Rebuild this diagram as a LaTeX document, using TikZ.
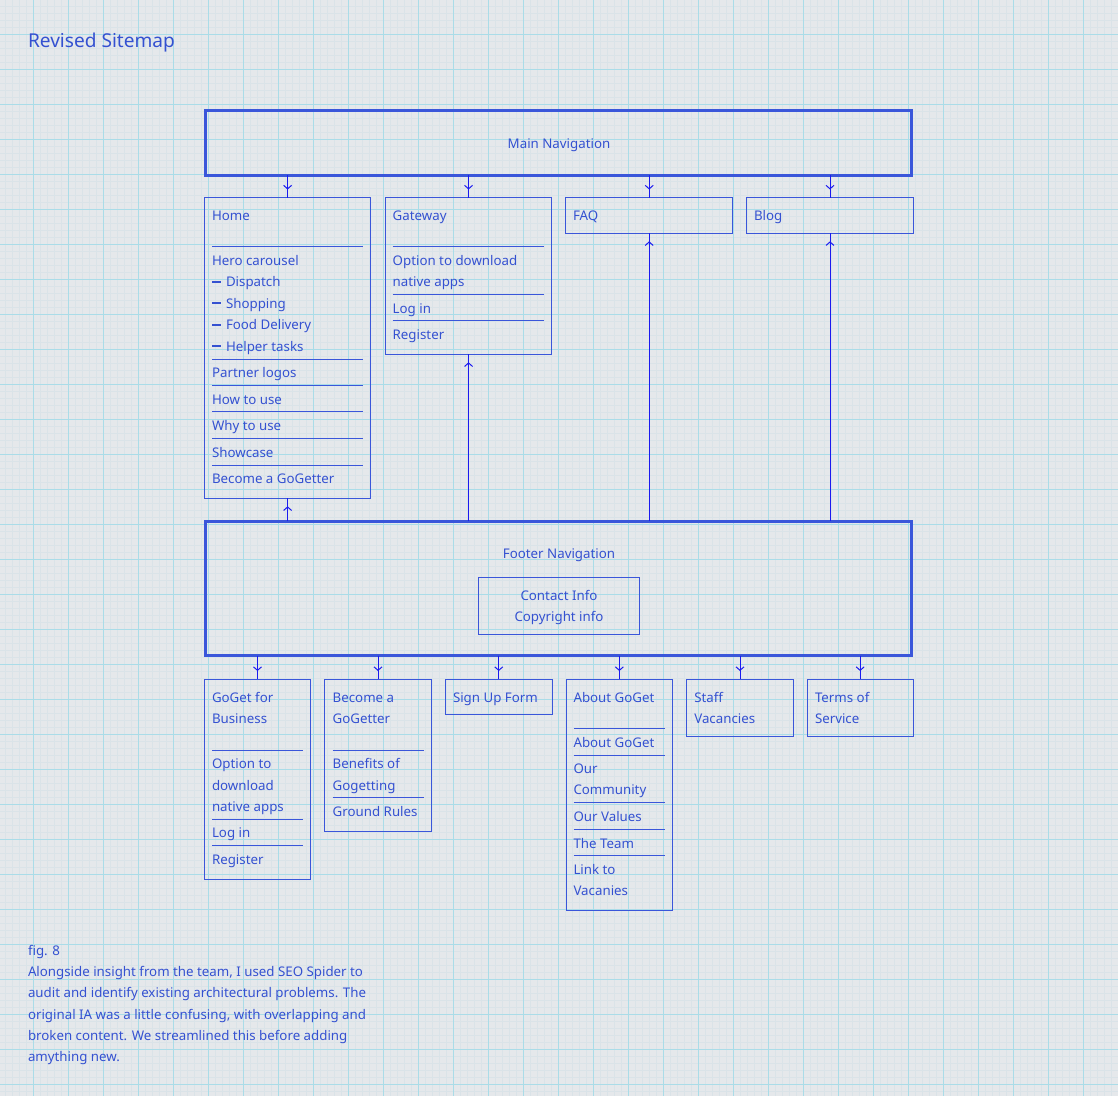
\documentclass[tikz,border=0pt]{standalone}
\usepackage{fontspec}
\setmainfont{Noto Sans}
\usetikzlibrary{arrows.meta}
\definecolor{bg}{HTML}{E5E8EB}
\definecolor{gminor}{HTML}{DAE3E8}
\definecolor{gmajor}{HTML}{AADCE8}
\definecolor{tc}{HTML}{3451D1}
\definecolor{bc}{HTML}{3A56DA}
\definecolor{conc}{HTML}{1A1AF0}
\newcommand{\dashbar}{\rule[4.3pt]{8.7pt}{1.6pt}\hspace{5.3pt}}
\begin{document}
\begin{tikzpicture}[x=1pt,y=-1pt,
  txt/.style={anchor=base west, inner sep=0, outer sep=0, text=tc, font=\fontsize{13.3}{16}\selectfont},
  ctxt/.style={txt, anchor=base},
  titletxt/.style={txt, font=\fontsize{19.1}{23}\selectfont},
  thinbox/.style={draw=bc, line width=1pt, inner sep=0, outer sep=0, anchor=north west},
  thickbox/.style={draw=bc, line width=3pt, inner sep=0, outer sep=0, anchor=north west},
  divider/.style={draw=bc, line width=1pt},
  conline/.style={draw=conc, line width=1pt},
  arr/.style={conline, postaction={draw=conc, line width=1pt, -{Straight Barb[length=3.5pt,width=8pt]}, shorten >=8pt}},
]
\useasboundingbox (0,0) rectangle (1118,1096);
% background grid
\fill[bg] (0,0) rectangle (1118,1096);
\foreach \x in {5,12,...,1117} \draw[gminor, line width=0.9pt] (\x,0) -- (\x,1096);
\foreach \y in {6,13,...,1095} \draw[gminor, line width=0.9pt] (0,\y+0.3) -- (1118,\y+0.3);
\foreach \x in {33,68,...,1117} \draw[gmajor, line width=1pt] (\x,0) -- (\x,1096);
\foreach \y in {34,69,...,1095} \draw[gmajor, line width=1pt] (0,\y+0.3) -- (1118,\y+0.3);

% title
\node[titletxt] (title) at (28,47.7) {Revised Sitemap};

% main navigation
\node[thickbox, minimum width=706.1pt, minimum height=64.5pt] (mainnav) at (205.7,110.8) {};
\node[ctxt] (tmain) at (559,148.3) {Main Navigation};

% top row boxes
\node[thinbox, minimum width=166.2pt, minimum height=300.8pt] (home) at (204.5,197.5) {};
\node[thinbox, minimum width=166.5pt, minimum height=156.8pt] (gate) at (385.3,197.5) {};
\node[thinbox, minimum width=167pt, minimum height=35.8pt] (faq) at (565.7,197.5) {};
\node[thinbox, minimum width=166.6pt, minimum height=35.8pt] (blog) at (746.7,197.5) {};

% home contents
\node[txt] (h1) at (212,220.5) {Home};
\node[txt] (h2) at (212,265.3) {Hero carousel};
\node[txt] (h3) at (212,286.8) {\dashbar Dispatch};
\node[txt] (h4) at (212,308.3) {\dashbar Shopping};
\node[txt] (h5) at (212,329.8) {\dashbar Food Delivery};
\node[txt] (h6) at (212,351.3) {\dashbar Helper tasks};
\node[txt] (h7) at (212,377.7) {Partner logos};
\node[txt] (h8) at (212,404) {How to use};
\node[txt] (h9) at (212,430.7) {Why to use};
\node[txt] (h10) at (212,457) {Showcase};
\node[txt] (h11) at (212,483.3) {Become a GoGetter};
\foreach \y in {246,359,385.3,411.7,438.3,465} \draw[divider] (212,\y) -- (363,\y);

% gateway contents
\node[txt] (g1) at (392.7,220.5) {Gateway};
\node[txt] (g2) at (392.7,265.3) {Option to download};
\node[txt] (g3) at (392.7,286.8) {native apps};
\node[txt] (g4) at (392.7,313) {Log in};
\node[txt] (g5) at (392.7,339.7) {Register};
\foreach \y in {246,294.3,320.7} \draw[divider] (392.7,\y) -- (544,\y);

\node[txt] (f1) at (573,220.5) {FAQ};
\node[txt] (b1) at (754,220.5) {Blog};

% footer navigation
\node[thickbox, minimum width=706.1pt, minimum height=134.7pt] (footer) at (205.7,521) {};
\node[ctxt] (tfoot) at (559,558.3) {Footer Navigation};
\node[thinbox, minimum width=160.6pt, minimum height=56.6pt] (contact) at (478.7,577.7) {};
\node[ctxt] (c1) at (559,600) {Contact Info};
\node[ctxt] (c2) at (559,621.7) {Copyright info};

% bottom row boxes
\node[thinbox, minimum width=106.4pt, minimum height=200pt] (biz) at (204.3,679) {};
\node[thinbox, minimum width=106.6pt, minimum height=152pt] (become) at (324.7,679) {};
\node[thinbox, minimum width=106.5pt, minimum height=35.5pt] (signup) at (445.5,679) {};
\node[thinbox, minimum width=106.7pt, minimum height=231pt] (about) at (566,679) {};
\node[thinbox, minimum width=106.6pt, minimum height=57.3pt] (staff) at (686.7,679) {};
\node[thinbox, minimum width=106.3pt, minimum height=57.3pt] (terms) at (807,679) {};

% biz contents
\node[txt] (z1) at (212,702.3) {GoGet for};
\node[txt] (z2) at (212,723.7) {Business};
\node[txt] (z3) at (212,768.7) {Option to};
\node[txt] (z4) at (212,790.2) {download};
\node[txt] (z5) at (212,811.7) {native apps};
\node[txt] (z6) at (212,837.7) {Log in};
\node[txt] (z7) at (212,864.3) {Register};
\foreach \y in {750,819.3,845.7} \draw[divider] (212,\y) -- (303,\y);

% become contents
\node[txt] (e1) at (332.7,702.3) {Become a};
\node[txt] (e2) at (332.7,723.7) {GoGetter};
\node[txt] (e3) at (332.7,768.7) {Benefits of};
\node[txt] (e4) at (332.7,790.2) {Gogetting};
\node[txt] (e5) at (332.7,816.7) {Ground Rules};
\foreach \y in {750,797.7} \draw[divider] (332.7,\y) -- (424,\y);

\node[txt] (s1) at (453,702.3) {Sign Up Form};

% about contents
\node[txt] (a1) at (573.5,702.3) {About GoGet};
\node[txt] (a2) at (573.5,747.3) {About GoGet};
\node[txt] (a3) at (573.5,773.3) {Our};
\node[txt] (a4) at (573.5,794.8) {Community};
\node[txt] (a5) at (573.5,821.7) {Our Values};
\node[txt] (a6) at (573.5,848.3) {The Team};
\node[txt] (a7) at (573.5,874.3) {Link to};
\node[txt] (a8) at (573.5,895.8) {Vacanies};
\foreach \y in {728.3,755,802.7,829.3,855.7} \draw[divider] (573.5,\y) -- (665,\y);

\node[txt] (v1) at (694.3,702.3) {Staff};
\node[txt] (v2) at (694.3,723.7) {Vacancies};
\node[txt] (t1) at (815,702.3) {Terms of};
\node[txt] (t2) at (815,723.7) {Service};

% connectors: main navigation to top row
\draw[arr] (mainnav.south -| home.north) -- (home.north);
\draw[arr] (mainnav.south -| gate.north) -- (gate.north);
\draw[arr] (mainnav.south -| faq.north) -- (faq.north);
\draw[arr] (mainnav.south -| blog.north) -- (blog.north);
% connectors: footer up to top row
\draw[arr] (footer.north -| home.south) -- (home.south);
\draw[arr] (footer.north -| gate.south) -- (gate.south);
\draw[arr] (footer.north -| faq.south) -- (faq.south);
\draw[arr] (footer.north -| blog.south) -- (blog.south);
% connectors: footer down to bottom row
\draw[arr] (footer.south -| biz.north) -- (biz.north);
\draw[arr] (footer.south -| become.north) -- (become.north);
\draw[arr] (footer.south -| signup.north) -- (signup.north);
\draw[arr] (footer.south -| about.north) -- (about.north);
\draw[arr] (footer.south -| staff.north) -- (staff.north);
\draw[arr] (footer.south -| terms.north) -- (terms.north);

% caption
\node[txt] (cap0) at (28,955) {fig. 8};
\node[txt] (cap1) at (28,976.7) {Alongside insight from the team, I used SEO Spider to};
\node[txt] (cap2) at (28,997.7) {audit and identify existing architectural problems. The};
\node[txt] (cap3) at (28,1019) {original IA was a little confusing, with overlapping and};
\node[txt] (cap4) at (28,1040.3) {broken content. We streamlined this before adding};
\node[txt] (cap5) at (28,1061) {amything new.};
\end{tikzpicture}
\end{document}
